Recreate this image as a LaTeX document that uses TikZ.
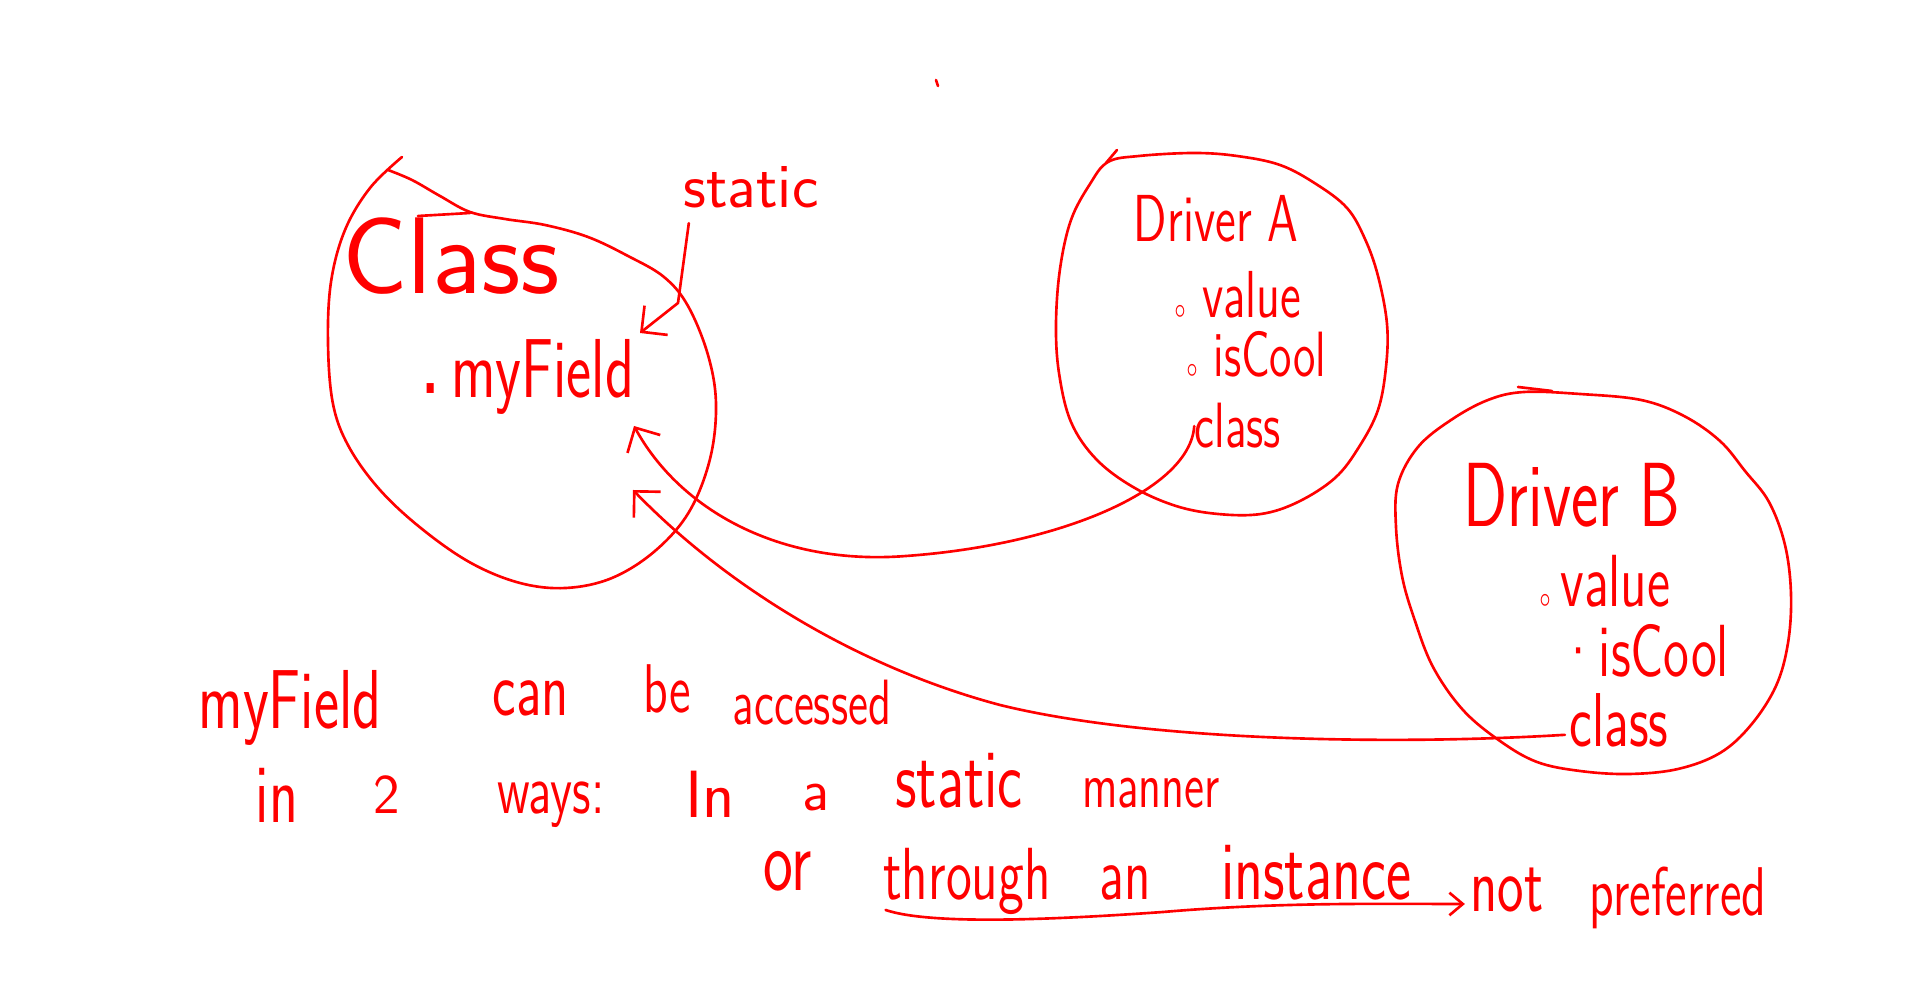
\documentclass[tikz,border=0pt]{standalone}
\usetikzlibrary{arrows.meta}
\definecolor{inkred}{RGB}{255,0,0}

\begin{document}
\begin{tikzpicture}[x=0.01cm, y=-0.01cm,
  ink/.style={draw=inkred, line width=0.75pt, line cap=round, line join=round},
  hand/.style={text=inkred, inner sep=0pt, anchor=base, font=\sffamily\fontsize{#1}{#1}\selectfont},
  tall/.style={yscale=1.4},
  barb/.style={-{Straight Barb[angle=90:7.5pt]}}]
  \fill[white] (0,0) rectangle (1920,986);
  \useasboundingbox (0,0) rectangle (1920,986);

  % the three blobs
  \draw[ink] plot[smooth, tension=0.6] coordinates {(402,157) (370,188) (345,230) (331,282) (328,343)
    (333,404) (349,447) (380,490) (422,529) (471,563) (520,583) (566,588) (612,578) (655,551)
    (689,512) (710,459) (716,404) (708,355) (688,306) (664,277) (628,256) (588,237) (545,225)
    (505,219) (470,212) (440,196) (412,180) (388,170)};
  \draw[ink] (418,216) -- (470,213);
  \draw[ink] plot[smooth cycle, tension=0.6] coordinates {(1108,162) (1139,156) (1194,153) (1237,156)
    (1280,165) (1316,184) (1347,208) (1365,239) (1378,276) (1387,324) (1386,367) (1378,410)
    (1359,447) (1335,478) (1298,502) (1261,514) (1218,514) (1176,506) (1133,487) (1096,459)
    (1071,422) (1059,373) (1056,324) (1060,269) (1071,220) (1090,184)};
  \draw[ink] (1117,150) -- (1106,163);
  \draw[ink] plot[smooth cycle, tension=0.6] coordinates {(1524,392) (1580,394) (1641,400) (1684,416)
    (1720,441) (1745,471) (1769,502) (1785,545) (1791,594) (1788,643) (1776,686) (1751,725)
    (1720,753) (1678,769) (1629,774) (1580,771) (1537,762) (1500,741) (1463,710) (1433,667)
    (1414,618) (1402,576) (1396,527) (1398,484) (1418,447) (1451,420) (1488,400)};
  \draw[ink] (1518,387) -- (1552,391);
  \draw[ink] (936,80) -- (938,86);

  % inside the blobs
  \node[hand=31] (classtxt) at (451,294) {Class};
  \node[hand=18] (stattxt) at (751,208) {static};
  \node[hand=17, tall, anchor=base west] (fieldtxt) at (420,398) {{\scriptsize\textbullet}\,myField};

  \node[hand=13.5, tall] (atitle) at (1216,242) {Driver A};
  \node[hand=13.5, tall, anchor=base west] (avalue) at (1173,318) {{\tiny$\circ$}\ value};
  \node[hand=13, tall, anchor=base west] (acool) at (1185,377) {{\tiny$\circ$}\ isCool};
  \node[hand=13, tall] (aclass) at (1238,448) {class};

  \node[hand=18.5, tall] (btitle) at (1572,527) {Driver B};
  \node[hand=15, tall, anchor=base west] (bvalue) at (1538,607) {{\tiny$\circ$}\,value};
  \node[hand=15, tall, anchor=base west] (bcool) at (1558,677) {\textperiodcentered isCool};
  \node[hand=15.5, tall] (bclass) at (1619,747) {class};

  % the note underneath
  \node[hand=17, tall] (notefield) at (290,729) {myField};
  \node[hand=16, tall] (notecan) at (531,716) {can};
  \node[hand=14, tall] (notebe) at (667,713) {be};
  \node[hand=13, tall] (noteacc) at (812,725) {accessed};
  \node[hand=17, tall] (notein) at (277,823) {in};
  \node[hand=16] (notetwo) at (387,814) {2};
  \node[hand=14, tall] (noteways) at (551,814) {ways:};
  \node[hand=19] (noteIn) at (710,818) {In};
  \node[hand=17] (notea) at (816,811) {a};
  \node[hand=17, tall] (notestat) at (959,808) {static};
  \node[hand=13, tall] (noteman) at (1151,808) {manner};
  \node[hand=18, tall] (noteor) at (788,891) {or};
  \node[hand=15, tall] (throughtxt) at (967,900) {through};
  \node[hand=15, tall] (notean) at (1125,900) {an};
  \node[hand=17, tall] (noteinst) at (1316,900) {instance};
  \node[hand=16, tall] (nottxt) at (1507,912) {not};
  \node[hand=14, tall] (notepref) at (1678,916) {preferred};

  \coordinate (tipS) at (640,333);
  \coordinate (bendS) at (678,303);
  \coordinate (tipA) at (634,426);
  \coordinate (tipB) at (633,490);

  \draw[ink, barb] ([shift={(6,14)}]stattxt.south west) -- (bendS) -- (tipS);
  \draw[ink, barb] (aclass.west) .. controls (1190,490) and (1060,545) .. (906,556)
    .. controls (780,566) and (680,510) .. (tipA);
  \draw[ink, barb] ([shift={(-4,14)}]bclass.west) .. controls (1400,745) and (1150,742) .. (1000,705)
    .. controls (850,665) and (720,580) .. (tipB);
  \draw[ink, -{Straight Barb[angle=80:5pt]}] ([shift={(3,10)}]throughtxt.base west)
    .. controls (930,925) and (1050,920) .. (1163,912)
    .. controls (1280,902) and (1380,904) .. ([shift={(-5,-8)}]nottxt.base west);
\end{tikzpicture}
\end{document}
